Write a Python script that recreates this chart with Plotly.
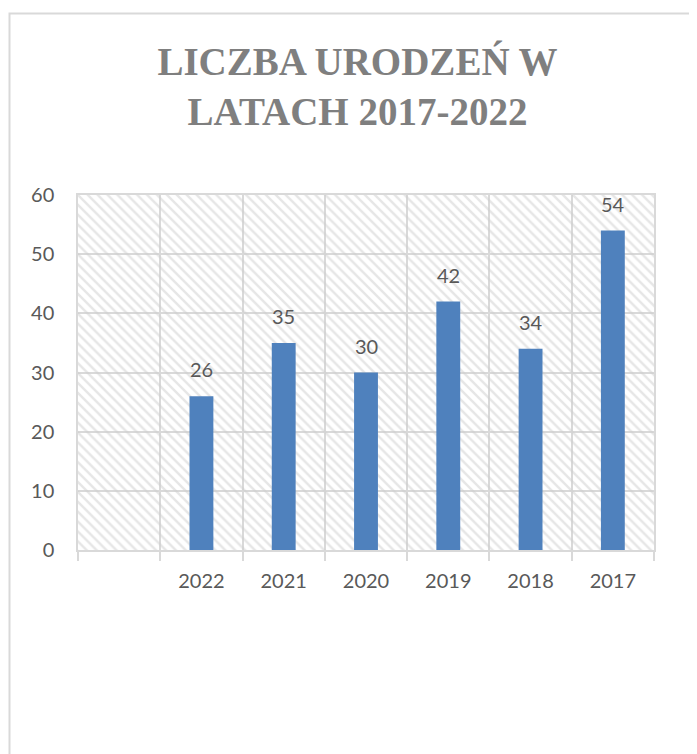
import plotly.graph_objects as go

# --- data ---
years = ["2022", "2021", "2020", "2019", "2018", "2017"]
births = [26, 35, 30, 42, 34, 54]
y_max = 60
title_text = "LICZBA URODZEŃ W<br>LATACH 2017-2022"

# first category slot is empty (as in the source chart)
n_slots = len(years) + 1
bar_x = list(range(1, n_slots))

W, H = 697, 754
OFF = 8  # page body margin
ML, MT = 78 - OFF, 195 - OFF
MR, MB = W - (654 - OFF), H - (550 - OFF)
PW, PH = W - ML - MR, H - MT - MB

GRID = "#d9d9d9"
TXT = "#595959"
FONT = "Lato, 'Open Sans', sans-serif"

fig = go.Figure()

# hatched plot-area background (one bar per category slot, full height)
fig.add_trace(go.Bar(
    x=list(range(n_slots)), y=[y_max] * n_slots, width=1,
    marker=dict(color="rgba(0,0,0,0)", line=dict(width=0),
                pattern=dict(shape="\\", fgcolor="#cdcdcd", bgcolor="rgba(0,0,0,0)",
                             size=7, solidity=0.35)),
    hoverinfo="skip", showlegend=False,
))

# data bars
fig.add_trace(go.Bar(
    x=bar_x, y=births, width=0.29,
    marker=dict(color="#4f81bd", line=dict(width=0)),
    showlegend=False,
))

for xv, v in zip(bar_x, births):
    fig.add_annotation(x=xv, y=v, text=str(v), showarrow=False,
                       yanchor="middle", yshift=27,
                       font=dict(family=FONT, size=20, color=TXT))

# outer chart border (only top/left visible in the crop)
fig.add_shape(type="rect", xref="paper", yref="paper",
              x0=(9.5 - OFF - ML) / PW, x1=1.3, y0=-1.0, y1=(MT + PH - (13.5 - OFF)) / PH,
              line=dict(color=GRID, width=2), fillcolor="rgba(0,0,0,0)", layer="below")

fig.update_layout(
    width=W, height=H,
    margin=dict(l=ML, r=MR, t=MT, b=MB, pad=0),
    paper_bgcolor="white", plot_bgcolor="white",
    barmode="overlay",
    title=dict(text=title_text, x=(357.5 - OFF) / W, xanchor="center",
               y=1 - (86.5 - OFF - 12) / H, yanchor="middle", yref="container",
               xref="container",
               font=dict(family="'Liberation Serif', serif", size=39, color="#7f7f7f",
                         weight="bold")),
    xaxis=dict(range=[-0.5, n_slots - 0.5], tickmode="array", tickvals=bar_x,
               ticktext=years, ticks="", showgrid=False, zeroline=False,
               showline=True, linecolor=GRID, linewidth=2, mirror=True,
               tickfont=dict(family=FONT, size=20, color=TXT),
               ticklabelstandoff=12,
               minor=dict(tickmode="linear", tick0=-0.5, dtick=1, showgrid=True,
                          gridcolor=GRID, gridwidth=1.5, ticks="outside",
                          ticklen=9, tickcolor=GRID, tickwidth=1.5)),
    yaxis=dict(range=[0, y_max], dtick=10, showgrid=True, gridcolor=GRID, gridwidth=1.5,
               zeroline=False, showline=True, linecolor=GRID, linewidth=1.5, mirror=True,
               ticks="", tickfont=dict(family=FONT, size=20, color=TXT),
               ticklabelstandoff=18),
)

fig.write_html("out.html")
